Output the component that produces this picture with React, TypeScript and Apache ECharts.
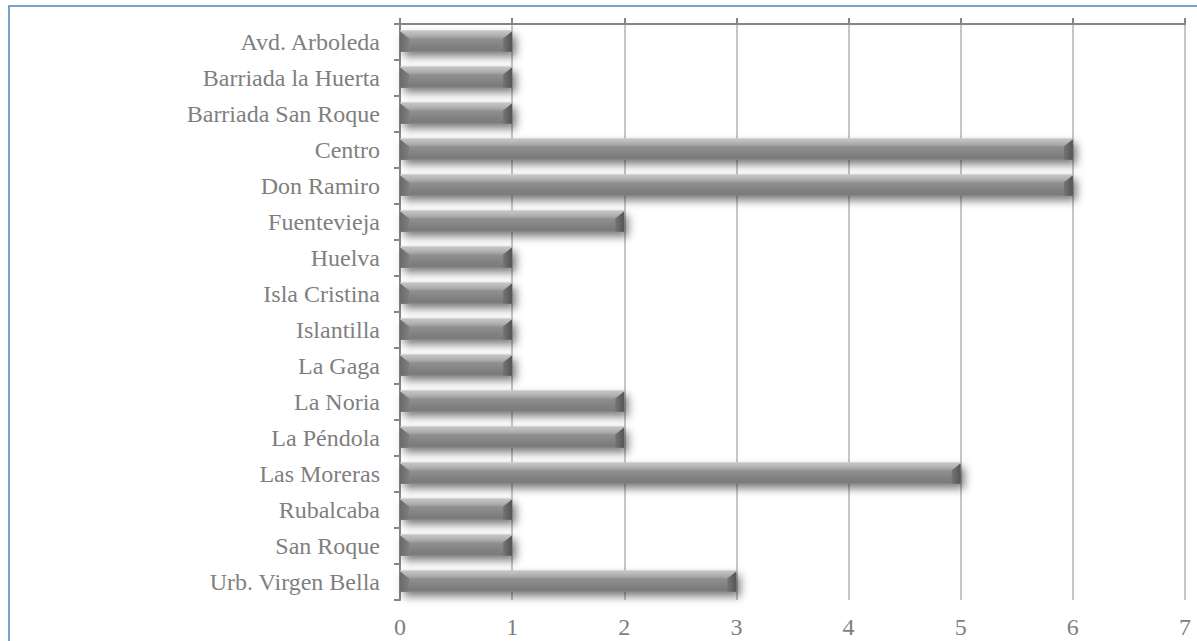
import React, { useEffect, useRef } from "react";
import * as echarts from "echarts";

const categories = [
  "Avd. Arboleda",
  "Barriada la Huerta",
  "Barriada San Roque",
  "Centro",
  "Don Ramiro",
  "Fuentevieja",
  "Huelva",
  "Isla Cristina",
  "Islantilla",
  "La Gaga",
  "La Noria",
  "La Péndola",
  "Las Moreras",
  "Rubalcaba",
  "San Roque",
  "Urb. Virgen Bella",
];
const values = [1, 1, 1, 6, 6, 2, 1, 1, 1, 1, 2, 2, 5, 1, 1, 3];
const xTicks = [0, 1, 2, 3, 4, 5, 6, 7];

const FONT = "'Liberation Serif', 'Times New Roman', serif";
const TEXT = "#7f7f7f";
const AXIS = "#868686";

export default function App() {
  const ref = useRef<HTMLDivElement>(null);
  useEffect(() => {
    if (!ref.current) return;
    const chart = echarts.init(ref.current, undefined, { renderer: "svg" });
    const data = values.map((v, i) => [v, i]);
    chart.setOption({
      animation: false,
      backgroundColor: "#ffffff",
      graphic: [
        {
          type: "rect",
          shape: { x: 9, y: 6, width: 1200, height: 700 },
          style: { fill: "none", stroke: "#4f81bd", lineWidth: 1.5 },
          silent: true,
          z: 100,
        },
      ],
      grid: {
        left: 400,
        right: 12,
        top: 24,
        bottom: 41,
        containLabel: false,
        outerBoundsMode: "none",
      },
      xAxis: [
        {
          type: "value",
          position: "top",
          min: xTicks[0],
          max: xTicks[xTicks.length - 1],
          interval: 1,
          axisLine: { show: true, lineStyle: { color: AXIS, width: 2 } },
          axisTick: { show: true, length: 6, lineStyle: { color: AXIS, width: 2 } },
          axisLabel: { show: false },
          splitLine: { show: true, lineStyle: { color: "#c6c6c6", width: 2 } },
        },
        {
          type: "value",
          position: "bottom",
          min: xTicks[0],
          max: xTicks[xTicks.length - 1],
          interval: 1,
          axisLine: { show: false },
          axisTick: { show: false },
          splitLine: { show: false },
          axisLabel: {
            show: true,
            color: TEXT,
            fontSize: 24,
            fontFamily: FONT,
            margin: 15,
          },
        },
      ],
      yAxis: {
        type: "category",
        inverse: true,
        data: categories,
        axisLine: { show: true, lineStyle: { color: AXIS, width: 2 } },
        axisTick: { show: true, length: 6, lineStyle: { color: AXIS, width: 2 } },
        splitLine: { show: false },
        axisLabel: {
          color: TEXT,
          fontSize: 24,
          fontFamily: FONT,
          margin: 20,
        },
      },
      series: [
        {
          type: "custom",
          xAxisIndex: 0,
          encode: { x: 0, y: 1 },
          data,
          renderItem: (params: any, api: any) => {
            const v = api.value(0);
            const c = api.value(1);
            const p0 = api.coord([0, c]);
            const p1 = api.coord([v, c]);
            const band = api.size([0, 1])[1];
            const h = band * 0.6;
            const x0 = p0[0];
            const x1 = p1[0];
            const y0 = p0[1] - h / 2 - 1;
            const y1 = y0 + h;
            const w = x1 - x0;
            const d = 9;
            return {
              type: "group",
              children: [
                {
                  type: "rect",
                  shape: { x: x0, y: y0, width: w, height: h },
                  style: {
                    fill: new echarts.graphic.LinearGradient(0, 0, 0, 1, [
                      { offset: 0, color: "#cacaca" },
                      { offset: 0.1, color: "#bfbfbf" },
                      { offset: 0.32, color: "#a5a5a5" },
                      { offset: 0.4, color: "#909090" },
                      { offset: 0.8, color: "#7e7e7e" },
                      { offset: 1, color: "#7a7a7a" },
                    ]),
                    shadowBlur: 9,
                    shadowOffsetX: 4,
                    shadowOffsetY: 5,
                    shadowColor: "rgba(0,0,0,0.5)",
                  },
                },
                {
                  type: "polygon",
                  shape: {
                    points: [
                      [x0, y0 + 1],
                      [x0 + d, y0 + h * 0.38],
                      [x0 + d, y1],
                      [x0, y1],
                    ],
                  },
                  style: {
                    fill: new echarts.graphic.LinearGradient(0, 0, 1, 0, [
                      { offset: 0, color: "#6a6a6a" },
                      { offset: 1, color: "#7e7e7e" },
                    ]),
                  },
                },
                {
                  type: "polygon",
                  shape: {
                    points: [
                      [x1, y0 + 1],
                      [x1 - d, y0 + h * 0.38],
                      [x1 - d, y1],
                      [x1, y1],
                    ],
                  },
                  style: {
                    fill: new echarts.graphic.LinearGradient(0, 0, 1, 0, [
                      { offset: 0, color: "#747474" },
                      { offset: 1, color: "#555555" },
                    ]),
                  },
                },
              ],
            };
          },
        },
      ],
    });
    return () => chart.dispose();
  }, []);
  return (
    <div
      ref={ref}
      style={{ position: "absolute", left: 0, top: 0, width: 1197, height: 641 }}
    />
  );
}
